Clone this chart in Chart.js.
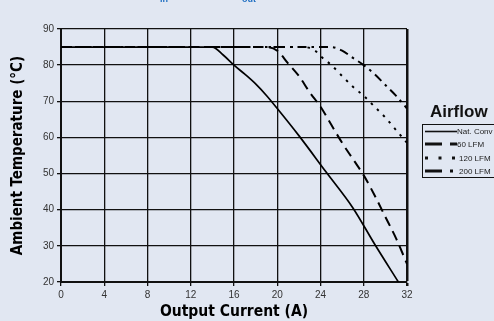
<!DOCTYPE html>
<html>
<head>
<meta charset="utf-8">
<script src="https://cdn.jsdelivr.net/npm/chart.js@4.4.1/dist/chart.umd.min.js"></script>
<style>
  html, body { margin: 0; padding: 0; background: #e1e7f2; }
  #wrap { width: 494px; height: 321px; }
</style>
</head>
<body>
<div id="wrap"><canvas id="derating"></canvas></div>
<script>
// derating curves
const natCurrent = [0, 14, 15, 16, 17, 18, 19, 20, 22, 24.5, 27, 29, 31.2];
const natTemp    = [85, 85, 82.8, 80, 77.5, 74.8, 71.6, 68, 60.5, 50.5, 40.5, 30.5, 20];

const lfm60Current = [0, 19, 20, 21, 22, 23, 24, 25, 26, 27, 28, 29, 30, 31, 32];
const lfm60Temp    = [85, 85, 84, 80.5, 77, 72.5, 68.5, 63.5, 58.5, 54, 49.5, 44, 38, 32, 25];

const lfm120Current = [0, 22.5, 23.5, 24, 25, 26, 27, 28, 29, 30, 31, 32];
const lfm120Temp    = [85, 85, 84, 82.5, 80, 77, 74, 71.5, 68.5, 65.5, 62, 58.5];

const lfm200Current = [0, 25, 26, 27, 28, 29, 30, 31, 32];
const lfm200Temp    = [85, 85, 84, 82, 80, 77.5, 74.5, 71.5, 68];

const seriesLabels = ['Nat. Conv', '60 LFM', '120 LFM', '200 LFM'];

function pts(xs, ys) {
  return xs.map((x, i) => ({ x: x, y: ys[i] }));
}

const legendBox = {
  id: 'airflowLegend',
  afterDraw(chart) {
    const ctx = chart.ctx;
    ctx.save();
    // cut-off blue subtitle at the very top
    ctx.fillStyle = '#1f6fc2';
    ctx.font = 'bold 9px "Liberation Sans", Arial, sans-serif';
    ctx.textBaseline = 'alphabetic';
    ctx.textAlign = 'left';
    ctx.fillText('in', 160, 1.5);
    ctx.fillText('out', 242, 1.5);

    ctx.fillStyle = '#111';
    ctx.font = 'bold 17px "Liberation Sans", Arial, sans-serif';
    ctx.fillText('Airflow', 430, 117);

    ctx.strokeStyle = '#111';
    ctx.lineWidth = 1;
    ctx.strokeRect(422.5, 124.5, 90, 53);

    const rows = [131.5, 144, 158, 171];
    const dashes = [[], [17, 8], [3, 10.5], [17, 8, 3, 8]];
    const textX = [457, 457, 459, 459];
    chart.data.datasets.forEach((ds, i) => {
      ctx.beginPath();
      ctx.setLineDash(dashes[i]);
      ctx.lineWidth = i === 0 ? 1.6 : 3;
      ctx.moveTo(425, rows[i]);
      ctx.lineTo(457, rows[i]);
      ctx.stroke();
      ctx.setLineDash([]);
      ctx.fillStyle = '#222';
      ctx.font = '8px "Liberation Sans", Arial, sans-serif';
      ctx.textBaseline = 'middle';
      ctx.fillText(ds.label, textX[i], rows[i] + 0.5);
    });
    ctx.restore();
  }
};

const lineStyle = { borderColor: '#000', pointRadius: 0, cubicInterpolationMode: 'monotone' };

new Chart(document.getElementById('derating'), {
  type: 'line',
  data: {
    datasets: [
      Object.assign({ label: seriesLabels[0], data: pts(natCurrent, natTemp), borderWidth: 1.7 }, lineStyle),
      Object.assign({ label: seriesLabels[1], data: pts(lfm60Current, lfm60Temp), borderWidth: 2, borderDash: [10, 6] }, lineStyle),
      Object.assign({ label: seriesLabels[2], data: pts(lfm120Current, lfm120Temp), borderWidth: 2, borderDash: [2.5, 6] }, lineStyle),
      Object.assign({ label: seriesLabels[3], data: pts(lfm200Current, lfm200Temp), borderWidth: 2, borderDash: [9, 5, 2.5, 5] }, lineStyle)
    ]
  },
  options: {
    responsive: true,
    maintainAspectRatio: false,
    animation: false,
    layout: { padding: { top: 29, right: 87, left: 0, bottom: 0 } },
    plugins: {
      legend: { display: false },
      tooltip: { enabled: false }
    },
    scales: {
      x: {
        type: 'linear',
        min: 0, max: 32,
        ticks: { stepSize: 4, color: '#333', padding: 3,
          font: { family: '"Liberation Sans", Arial, sans-serif', size: 10 } },
        grid: {
          color: '#111',
          lineWidth: c => (c.tick && c.tick.value === 32 ? 2.5 : 1.3),
          tickLength: 4, tickColor: '#111'
        },
        border: { color: '#111', width: 2 },
        title: { display: true, text: 'Output Current (A)', color: '#000',
          padding: { top: 0, bottom: 0 },
          font: { family: '"DejaVu Sans Condensed", "DejaVu Sans", sans-serif', size: 15.5, weight: 'bold' } },
        afterFit(scale) { scale.height = 39; }
      },
      y: {
        min: 20, max: 90,
        ticks: { stepSize: 10, color: '#333', padding: 3,
          font: { family: '"Liberation Sans", Arial, sans-serif', size: 10 } },
        grid: { color: '#111', lineWidth: 1.3, tickLength: 4, tickColor: '#111' },
        border: { color: '#111', width: 2 },
        title: { display: true, text: 'Ambient Temperature (°C)', color: '#000',
          padding: { top: 9, bottom: 0 },
          font: { family: '"DejaVu Sans Condensed", "DejaVu Sans", sans-serif', size: 15, weight: 'bold' } },
        afterFit(scale) { scale.width = 61; }
      }
    }
  },
  plugins: [legendBox]
});
</script>
</body>
</html>
